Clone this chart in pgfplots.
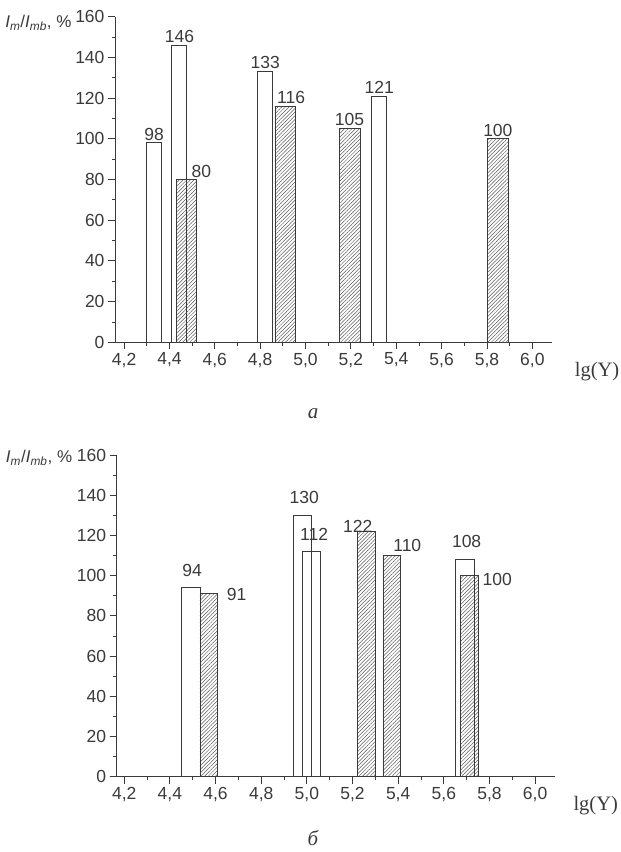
\documentclass[border=0pt]{standalone}
\usepackage{fontspec}
\setmainfont{Liberation Sans}
\newfontfamily\serif{Liberation Serif}
\usepackage{pgfplots}
\pgfplotsset{compat=1.18}
\usetikzlibrary{patterns.meta}
\definecolor{ink}{HTML}{3A3A3A}
\definecolor{hatch}{HTML}{5A5A5A}

% x = lg(Y), y = I_m/I_mb in %, dx/dy = label offset in pt
\pgfplotstableread{
x     y    lab  dx   dy
4.332 98   98   0    8.7
4.441 146  146  0.7  8.5
4.822 133  133  0    9
5.325 121  121  0    8.3
}\topwhite
\pgfplotstableread{
x     y    lab  dx   dy
4.475 80   80   15   8
4.911 116  116  5.7  8.8
5.194 105  105  0    9
5.848 100  100  0    8.8
}\tophatch
\pgfplotstableread{
x     y    lab  dx   dy
4.492 94   94   1.2  17
4.982 130  130  1.5  17.7
5.021 112  112  2.5  17.3
5.692 108  108  1.8  17.6
}\botwhite
\pgfplotstableread{
x     y    lab  dx   dy
4.570 91   91   28   -1.2
5.262 122  122  -9   5.5
5.372 110  110  15.5 10.3
5.713 100  100  27.7 -3.6
}\bothatch

\pgfplotsset{
  panel/.style={
    scale only axis,
    anchor=south west,
    axis x line*=bottom, axis y line*=left,
    axis line style={draw=ink, line width=0.8pt, -},
    tick style={draw=ink, line width=0.8pt},
    tick align=outside,
    major tick length=7pt, minor tick length=3.5pt,
    minor tick num=1,
    ymin=0, ymax=160,
    ytick={0,20,40,60,80,100,120,140,160},
    xtick={4.2,4.4,4.6,4.8,5.0,5.2,5.4,5.6,5.8,6.0},
    tick label style={font=\fontsize{17.5}{19}\selectfont, text=ink},
    /pgf/number format/assume math mode=true,
    xticklabel style={/pgf/number format/.cd, fixed, fixed zerofill, precision=1, use comma},
    every axis x label/.style={at={(rel axis cs:1,0)}, anchor=base west,
      yshift=-34pt, font=\serif\fontsize{20.5}{24}\selectfont, text=ink},
    every axis y label/.style={at={(rel axis cs:0,1)}, anchor=base east,
      font=\fontsize{17}{19}\selectfont, text=ink},
    xlabel={lg(Y)},
    ylabel={\textit{I\textsubscript{m}}/\textit{I\textsubscript{mb}}, \%},
    every node near coord/.append style={font=\fontsize{17.5}{19}\selectfont, text=ink},
    clip=false,
  },
  whitebar/.style={ybar, bar shift=0pt, bar width=#1, draw=ink, fill=none, line width=0.8pt,
    point meta=explicit symbolic,
    visualization depends on={\thisrow{dx}\as\dx},
    visualization depends on={\thisrow{dy}\as\dy},
    nodes near coords,
    nodes near coords style={anchor=center, inner sep=0pt, xshift=\dx pt, yshift=\dy pt}},
  hatchbar/.style={whitebar=#1,
    pattern={Lines[angle=45, distance=2.6pt, line width=0.5pt]}, pattern color=hatch},
}

\begin{document}
\begin{tikzpicture}
\useasboundingbox (0,0) rectangle (621pt,852pt);

\begin{axis}[panel, at={(115pt,509.7pt)}, width=437.3pt, height=325.6pt,
  xmin=4.16, xmax=6.088,
  xlabel style={xshift=19pt},
  ylabel style={xshift=-40pt, yshift=-11.3pt}]
\addplot[hatchbar=0.092] table[x=x, y=y, meta=lab]{\tophatch};
\addplot[whitebar=0.066] table[x=x, y=y, meta=lab]{\topwhite};
\end{axis}

\begin{axis}[panel, at={(116.7pt,75.3pt)}, width=438.3pt, height=321.7pt,
  xmin=4.167, xmax=6.087,
  xlabel style={xshift=15pt},
  ylabel style={xshift=-41pt, yshift=-8pt}]
\addplot[hatchbar=0.077] table[x=x, y=y, meta=lab]{\bothatch};
\addplot[whitebar=0.080] table[x=x, y=y, meta=lab]{\botwhite};
\end{axis}

\node[font=\serif\itshape\fontsize{21}{24}\selectfont, text=ink] at (313pt,438pt) {а};
\node[font=\serif\itshape\fontsize{21}{24}\selectfont, text=ink] at (313pt,14pt) {б};
\end{tikzpicture}
\end{document}
